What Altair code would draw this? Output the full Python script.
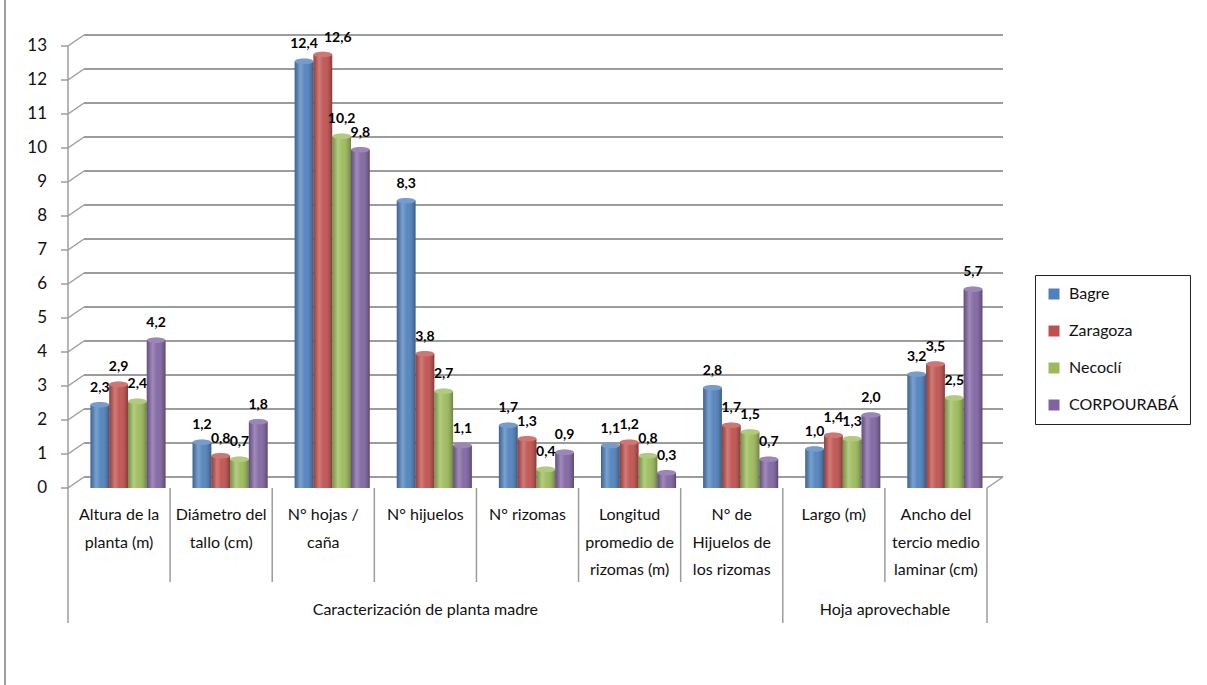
import altair as alt
import pandas as pd

# Categories (line breaks marked with "|"), grouped under two headings
categories = [
    "Altura de la|planta (m)",
    "Diámetro del|tallo (cm)",
    "N° hojas /|caña",
    "N° hijuelos",
    "N° rizomas",
    "Longitud|promedio de|rizomas (m)",
    "N° de|Hijuelos de|los rizomas",
    "Largo (m)",
    "Ancho del|tercio medio|laminar (cm)",
]
groups = ["Caracterización de planta madre", "Hoja aprovechable"]

series = ["Bagre", "Zaragoza", "Necoclí", "CORPOURABÁ"]
colors = ["#4F81BD", "#C0504D", "#9BBB59", "#8064A2"]

bagre = [2.3, 1.2, 12.4, 8.3, 1.7, 1.1, 2.8, 1.0, 3.2]
zaragoza = [2.9, 0.8, 12.6, 3.8, 1.3, 1.2, 1.7, 1.4, 3.5]
necocli = [2.4, 0.7, 10.2, 2.7, 0.4, 0.8, 1.5, 1.3, 2.5]
corpouraba = [4.2, 1.8, 9.8, 1.1, 0.9, 0.3, 0.7, 2.0, 5.7]

y_ticks = list(range(0, 14))

W, H = 919, 442
DX, DY = 16, -11        # depth of the 3D wall / floor
BY = -5                 # bars sit half-way into the depth
GRID = "#9c9c9c"
FONT = "Lato"

rows = []
for s, vals in zip(series, [bagre, zaragoza, necocli, corpouraba]):
    for c, v in zip(categories, vals):
        rows.append({"cat": c, "serie": s, "value": v})
df = pd.DataFrame(rows)
grid_df = pd.DataFrame({"value": y_ticks})
cat_df = pd.DataFrame({"cat": categories})

xscale = alt.Scale(domain=categories, paddingInner=0, paddingOuter=0)
yscale = alt.Scale(domain=[0, 13], nice=False, zero=True)
# cluster of four cylinders, pushed right by half the depth
offscale = alt.Scale(domain=series, paddingInner=0, paddingOuter=0.72, align=0.83)
cscale = alt.Scale(domain=series, range=colors)

y_field = alt.Y("value:Q", scale=yscale, axis=None)

# back wall gridlines and left-side wall stubs
back_grid = alt.Chart(grid_df).mark_rule(
    color=GRID, strokeWidth=1.8, xOffset=DX, x2Offset=DX, yOffset=DY, y2Offset=DY
).encode(y=y_field, y2="value:Q", x=alt.value(0), x2=alt.value("width"))

side_stubs = alt.Chart(grid_df).mark_rule(
    color=GRID, strokeWidth=1.5, y2Offset=DY
).encode(y=y_field, y2="value:Q", x=alt.value(0), x2=alt.value(DX))

floor_right = alt.Chart(pd.DataFrame({"value": [0]})).mark_rule(
    color=GRID, strokeWidth=1.5, x2Offset=DX, y2Offset=DY
).encode(y=y_field, y2="value:Q", x=alt.value("width"), x2=alt.value("width"))

# value axis: domain, ticks and labels drawn from the y scale
y_domain = alt.Chart(pd.DataFrame({"value": [0], "top": [13]})).mark_rule(
    color=GRID, strokeWidth=1.5
).encode(y=y_field, y2="top:Q", x=alt.value(0))
y_tick_marks = alt.Chart(grid_df).mark_rule(color=GRID, strokeWidth=1.5).encode(
    y=y_field, x=alt.value(-7), x2=alt.value(0)
)
y_tick_labels = alt.Chart(grid_df).mark_text(
    font=FONT, fontSize=17, color="#111", align="right", baseline="middle"
).encode(y=y_field, x=alt.value(-21), text="value:Q")

base = alt.Chart(df).transform_calculate(
    label="replace(format(datum.value, '.1f'), '.', ',')"
)

x_enc = alt.X(
    "cat:N", sort=categories, scale=xscale,
    axis=alt.Axis(labels=False, ticks=False, title=None, domainColor=GRID,
                  domainWidth=1.5),
)
x_plain = alt.X("cat:N", sort=categories, scale=xscale, axis=None)
off_enc = alt.XOffset("serie:N", sort=series, scale=offscale)
y_bar = alt.Y("value:Q", scale=yscale, stack=None, axis=None)

bars = base.mark_bar(yOffset=BY, y2Offset=BY).encode(
    x=x_enc,
    xOffset=off_enc,
    y=y_bar,
    color=alt.Color(
        "serie:N", sort=series, scale=cscale,
        legend=alt.Legend(title=None, orient="none", legendX=967, legendY=229,
                          strokeColor="#222", padding=11, rowPadding=21,
                          symbolType="square", symbolSize=121,
                          symbolStrokeWidth=0, labelFont=FONT,
                          labelFontSize=16, labelOffset=7, labelColor="#111"),
    ),
)

shade = {
    "gradient": "linear", "x1": 0, "x2": 1, "y1": 0, "y2": 0,
    "stops": [
        {"offset": 0.0, "color": "rgba(0,0,0,0.22)"},
        {"offset": 0.3, "color": "rgba(255,255,255,0.25)"},
        {"offset": 0.55, "color": "rgba(255,255,255,0.05)"},
        {"offset": 1.0, "color": "rgba(0,0,0,0.30)"},
    ],
}
bar_shade = base.mark_bar(yOffset=BY, y2Offset=BY, fill=shade).encode(
    x=x_plain, xOffset=off_enc, y=y_bar,
)

ellipse = "M-1,0 A1,0.3 0 1,1 1,0 A1,0.3 0 1,1 -1,0 Z"
caps = base.mark_point(
    shape=ellipse, size=352, filled=True, opacity=1, yOffset=BY
).encode(
    x=x_plain, xOffset=off_enc, y=y_field,
    color=alt.Color("serie:N", sort=series, scale=cscale, legend=None),
)
caps_hi = base.mark_point(
    shape=ellipse, size=352, filled=True, color="white", opacity=0.22, yOffset=BY,
).encode(x=x_plain, xOffset=off_enc, y=y_field)

# value labels; the tallest pair is spread apart so the two do not collide
crowded = f"datum.cat === '{categories[2]}' && datum.serie === '{series[1]}'"
label_style = dict(font=FONT, fontSize=14, fontWeight="bold", color="#000",
                   baseline="middle", dy=-17, yOffset=BY)
value_labels = base.transform_filter(f"!({crowded})").mark_text(**label_style).encode(
    x=x_plain, xOffset=off_enc, y=y_field, text="label:N",
)
value_labels_moved = base.transform_filter(crowded).mark_text(dx=15, **label_style).encode(
    x=x_plain, xOffset=off_enc, y=y_field, text="label:N",
)

# multi-level category axis below the plot
cat_labels = alt.Chart(cat_df).mark_text(
    font=FONT, fontSize=16, color="#111", lineBreak="|", lineHeight=27.5,
    baseline="top", align="center",
).encode(x=x_plain, y=alt.value(H + 19), text="cat:N")

short_sep = alt.Chart(pd.DataFrame({"cat": categories[1:7] + categories[8:]})).mark_rule(
    color=GRID, strokeWidth=1.5
).encode(
    x=alt.X("cat:N", sort=categories, scale=xscale, axis=None, bandPosition=0),
    y=alt.value(H), y2=alt.value(H + 94),
)
long_sep_start = alt.Chart(pd.DataFrame({"cat": [categories[0], categories[7]]})).mark_rule(
    color=GRID, strokeWidth=1.5
).encode(
    x=alt.X("cat:N", sort=categories, scale=xscale, axis=None, bandPosition=0),
    y=alt.value(H), y2=alt.value(H + 135),
)
long_sep_end = alt.Chart(pd.DataFrame({"cat": [categories[8]]})).mark_rule(
    color=GRID, strokeWidth=1.5
).encode(
    x=alt.X("cat:N", sort=categories, scale=xscale, axis=None, bandPosition=1),
    y=alt.value(H), y2=alt.value(H + 135),
)

group_a = alt.Chart(pd.DataFrame({"cat": [categories[3]], "g": [groups[0]]})).mark_text(
    font=FONT, fontSize=16, color="#111", baseline="middle"
).encode(
    x=alt.X("cat:N", sort=categories, scale=xscale, axis=None, bandPosition=0.5),
    y=alt.value(H + 122), text="g:N",
)
group_b = alt.Chart(pd.DataFrame({"cat": [categories[8]], "g": [groups[1]]})).mark_text(
    font=FONT, fontSize=16, color="#111", baseline="middle"
).encode(
    x=alt.X("cat:N", sort=categories, scale=xscale, axis=None, bandPosition=0),
    y=alt.value(H + 122), text="g:N",
)

# outer chart-area border on the left
border = alt.Chart(pd.DataFrame({"value": [0]})).mark_rule(
    color="#a0a0a0", strokeWidth=2
).encode(x=alt.value(-63), y=alt.value(-46), y2=alt.value(H + 197))

chart = alt.layer(
    back_grid, side_stubs, floor_right, y_domain, y_tick_marks, y_tick_labels,
    bars, bar_shade, caps, caps_hi, value_labels, value_labels_moved,
    cat_labels, short_sep, long_sep_start, long_sep_end, group_a, group_b,
    border,
).properties(
    width=W, height=H,
    autosize=alt.AutoSizeParams(type="none"),
    padding={"left": 68, "top": 46, "right": 1207 - 68 - W, "bottom": 685 - 46 - H},
    background="white",
).configure_view(stroke=None)

chart.save("out.html", embed_options={"renderer": "svg", "actions": False})
